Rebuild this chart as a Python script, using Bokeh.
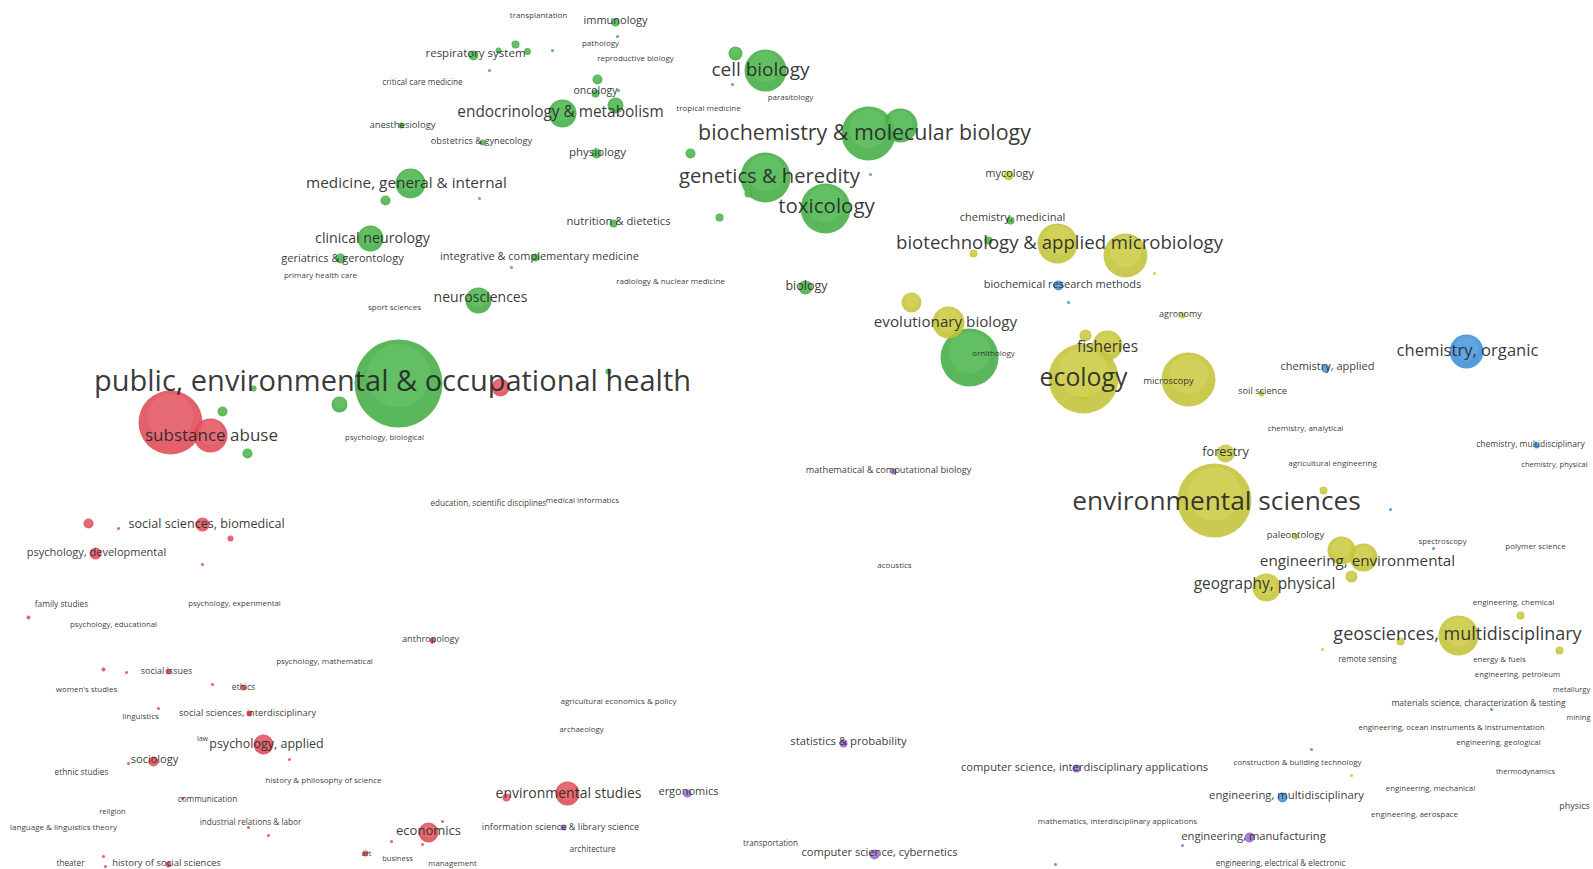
from bokeh.plotting import figure
from bokeh.models import Range1d, ColumnDataSource
from bokeh.embed import file_html
from bokeh.resources import INLINE
from bokeh.core.properties import value

# ---------------- data: map coordinates (screen-like units), bubble sizes, clusters ----------------
bubble_x = [401, 410, 385, 370, 340, 615, 617, 473, 515, 527, 498, 765, 735, 732, 597, 595, 615, 618, 562, 482,
            596, 690, 868, 900, 765, 748, 870, 825, 719, 613, 535, 805, 478, 1010, 988, 969, 398, 222, 247, 339,
            253, 608, 552, 489, 479, 511,
            170, 210, 500, 202, 88, 230, 118, 95, 202, 432, 567, 506, 428, 442, 422, 28, 168, 103, 126, 243,
            212, 158, 249, 263, 289, 153, 128, 182, 248, 268, 365, 391, 168, 103, 105,
            1008, 1057, 1125, 973, 1154, 911, 948, 1182, 1085, 1107, 1083, 1083, 1188, 1214, 1261, 1225, 1323,
            1295, 1341, 1363, 1351, 1266, 1520, 1458, 1400, 1559, 1322, 1351,
            1058, 1068, 1466, 1325, 1536, 1282, 1390, 1433, 1311, 1491,
            893, 843, 1076, 874, 687, 563, 1249, 1182, 1055]
bubble_y = [125, 183, 200, 238, 258, 22, 36, 55, 44, 51, 50, 70, 53, 84, 79, 93, 105, 90, 113, 142,
            153, 153, 133, 125, 177, 193, 174, 208, 217, 223, 257, 287, 300, 220, 240, 357, 383, 411, 453, 404,
            388, 371, 50, 70, 198, 267,
            422, 435, 387, 524, 523, 538, 528, 553, 564, 640, 793, 797, 832, 821, 844, 617, 671, 669, 672, 687,
            684, 708, 713, 744, 759, 761, 763, 798, 827, 835, 853, 841, 864, 856, 866,
            175, 243, 255, 253, 273, 302, 322, 315, 335, 345, 378, 392, 379, 500, 393, 453, 490,
            536, 550, 557, 576, 587, 615, 635, 641, 650, 649, 775,
            285, 302, 351, 368, 445, 797, 509, 548, 749, 709,
            471, 743, 768, 854, 793, 827, 837, 845, 864]
bubble_r = [3, 15, 5, 13, 5, 4, 1.5, 5, 4, 3.5, 3, 21, 7, 1.5, 5, 4, 8, 1.5, 14, 3,
            5, 5, 27, 17, 25, 4, 1.5, 25, 4, 4, 4, 7, 13, 4, 4, 29, 44, 5, 5, 8,
            3, 3, 1.5, 1.5, 1.5, 1.5,
            32, 17, 9, 7, 5, 3, 1.5, 6, 1.5, 3, 12, 4, 10, 1.5, 1.5, 2, 3, 2, 1.5, 3,
            1.5, 1.5, 3, 10, 1.5, 5, 1.5, 1.5, 1.5, 1.5, 3, 1.5, 3, 1.5, 1.5,
            5, 20, 22, 4, 1.5, 10, 16, 3, 6, 15, 35, 8, 27, 37, 3, 9, 4,
            3, 14, 14, 6, 14, 4, 20, 4, 4, 1.5, 1.5,
            5, 1.5, 17, 4, 3, 5, 1.5, 1.5, 1.5, 1.5,
            3, 4, 4, 5, 4, 3, 5, 1.5, 1.5]
bubble_cluster = (["green"] * 46 + ["red"] * 35 + ["yellow"] * 28 + ["blue"] * 10 + ["purple"] * 9)

label_text = [
    "transplantation", "immunology", "pathology", "respiratory system", "reproductive biology",
    "critical care medicine", "cell biology", "parasitology", "oncology", "endocrinology & metabolism",
    "tropical medicine", "anesthesiology", "obstetrics & gynecology", "physiology",
    "biochemistry & molecular biology", "genetics & heredity", "mycology", "medicine, general & internal",
    "toxicology", "nutrition & dietetics", "chemistry, medicinal", "clinical neurology",
    "biotechnology & applied microbiology", "geriatrics & gerontology", "integrative & complementary medicine",
    "primary health care", "radiology & nuclear medicine", "biology", "biochemical research methods",
    "neurosciences", "sport sciences", "agronomy", "evolutionary biology", "fisheries", "ornithology",
    "chemistry, organic", "chemistry, applied", "public, environmental & occupational health", "ecology",
    "microscopy", "soil science", "chemistry, analytical", "substance abuse", "psychology, biological",
    "forestry", "chemistry, multidisciplinary", "agricultural engineering", "chemistry, physical",
    "mathematical & computational biology", "environmental sciences", "medical informatics",
    "education, scientific disciplines", "social sciences, biomedical", "paleontology", "spectroscopy",
    "polymer science", "psychology, developmental", "engineering, environmental", "acoustics",
    "geography, physical", "family studies", "psychology, experimental", "engineering, chemical",
    "psychology, educational", "geosciences, multidisciplinary", "anthropology", "remote sensing",
    "energy & fuels", "psychology, mathematical", "social issues", "engineering, petroleum", "ethics",
    "women's studies", "metallurgy", "agricultural economics & policy",
    "materials science, characterization & testing", "social sciences, interdisciplinary", "linguistics",
    "mining", "archaeology", "engineering, ocean instruments & instrumentation",
    "statistics & probability", "psychology, applied", "law", "engineering, geological", "sociology",
    "computer science, interdisciplinary applications", "construction & building technology",
    "ethnic studies", "thermodynamics", "history & philosophy of science", "environmental studies",
    "ergonomics", "engineering, mechanical", "engineering, multidisciplinary", "communication",
    "physics", "religion", "industrial relations & labor", "language & linguistics theory",
    "mathematics, interdisciplinary applications", "engineering, aerospace", "economics",
    "information science & library science", "engineering, manufacturing", "transportation",
    "architecture", "computer science, cybernetics", "art", "business", "theater",
    "history of social sciences", "management", "engineering, electrical & electronic"]
label_x = [538, 615, 600, 475, 635, 422, 760, 790, 595, 560, 708, 402, 481, 597,
           864, 769, 1009, 406, 826, 618, 1012, 372, 1059, 342, 539, 320, 670, 806, 1062,
           480, 394, 1180, 945, 1107, 993, 1467, 1327, 392, 1083, 1168, 1262, 1305, 211, 384,
           1225, 1530, 1332, 1554, 888, 1216, 582, 488, 206, 1295, 1442, 1535, 96, 1357, 894,
           1264, 61, 234, 1513, 113, 1457, 430, 1367, 1499, 324, 166, 1517, 243, 86, 1571, 618,
           1478, 247, 140, 1578, 581, 1451, 848, 266, 202, 1498, 154, 1084, 1297, 81, 1525, 323,
           568, 688, 1430, 1286, 207, 1574, 112, 250, 63, 1117, 1414, 428, 560, 1253, 770, 592,
           879, 366, 397, 70, 166, 452, 1280]
label_y = [15, 20, 43, 53, 58, 82, 70, 97, 91, 113, 108, 125, 141, 152,
           133, 177, 173, 183, 207, 221, 217, 238, 243, 258, 256, 275, 281, 286, 284,
           297, 307, 314, 322, 347, 353, 351, 366, 382, 378, 381, 391, 428, 436, 437,
           452, 444, 463, 464, 470, 502, 500, 503, 524, 535, 541, 546, 552, 561, 565,
           585, 604, 603, 602, 624, 634, 639, 659, 659, 661, 671, 674, 687, 689, 689, 701,
           703, 713, 716, 717, 729, 727, 741, 744, 739, 742, 759, 767, 762, 772, 771, 780,
           793, 791, 788, 795, 799, 806, 811, 822, 827, 821, 814, 831, 827, 836, 843, 849,
           852, 853, 858, 863, 863, 863, 863]
label_size = [8, 11, 8, 11.5, 8, 8.2, 19, 8, 10.5, 15.4, 8, 9.5, 9.2, 11.5,
              21.4, 20.2, 11, 15.3, 20.5, 11.3, 11, 14.2, 18.6, 11, 11, 8, 8, 12.5, 11,
              14, 8, 9, 15.2, 15.5, 8, 16.6, 11, 29, 24.8, 9.5, 9.3, 8, 17, 7.8,
              12.8, 8.5, 8, 7.5, 9.2, 26.3, 8, 8.1, 12.6, 9.5, 7.8, 8, 11, 15.2, 8,
              15.4, 8.3, 7.8, 8, 7.8, 18, 9.1, 8.1, 7.9, 8, 9, 7.8, 8.5, 7.9, 7.5, 8,
              8.5, 9.3, 8, 7.5, 7.8, 7.9, 11.3, 12.5, 7, 7.9, 11, 11.2, 7.9, 8.3, 7.5, 8,
              14, 11, 7.9, 11.3, 8.2, 9, 7.6, 8.2, 8, 8, 8, 13, 9.2, 11.2, 8.1, 8.2,
              11.1, 7.5, 7.5, 8.2, 9.5, 7.8, 8.1]

cluster_base = {"green": "#44ad44", "red": "#df4b57", "yellow": "#c4c338",
                "blue": "#3f8ed6", "purple": "#9364c9"}
cluster_light = {"green": "#6cc96c", "red": "#ec7880", "yellow": "#d9d963",
                 "blue": "#6cb0ea", "purple": "#b38fe0"}

W, H = 1593, 869

# ---------------- figure ----------------
p = figure(width=W, height=H, output_backend="svg", toolbar_location=None,
           x_range=Range1d(0, W), y_range=Range1d(H, 0),
           min_border=0, x_axis_type=None, y_axis_type=None)
p.outline_line_color = None
p.xgrid.visible = False
p.ygrid.visible = False
p.background_fill_color = "white"
p.border_fill_color = "white"

order = sorted(range(len(bubble_x)), key=lambda i: -bubble_r[i])
base_src = ColumnDataSource(dict(
    x=[bubble_x[i] for i in order], y=[bubble_y[i] for i in order], r=[bubble_r[i] for i in order],
    c=[cluster_base[bubble_cluster[i]] for i in order]))
hi_src = ColumnDataSource(dict(
    x=[bubble_x[i] for i in order],
    y=[bubble_y[i] - 0.18 * bubble_r[i] for i in order],
    r=[0.72 * bubble_r[i] for i in order],
    c=[cluster_light[bubble_cluster[i]] for i in order]))

p.circle(x="x", y="y", radius="r", fill_color="c", fill_alpha=0.88, line_color=None, source=base_src)
p.circle(x="x", y="y", radius="r", fill_color="c", fill_alpha=0.45, line_color=None, source=hi_src)

# label vertical centring: shift up slightly in proportion to font size
lab_src = ColumnDataSource(dict(x=label_x, y=[yy - 0.1 * s for yy, s in zip(label_y, label_size)],
                                t=label_text, fs=[f"{s}px" for s in label_size]))
p.text(x="x", y="y", text="t", source=lab_src, text_font=value("Open Sans"),
       text_font_size="fs", text_align="center", text_baseline="middle",
       text_color="#262626", text_alpha=0.92)

open("out.html", "w").write(file_html(p, INLINE))
